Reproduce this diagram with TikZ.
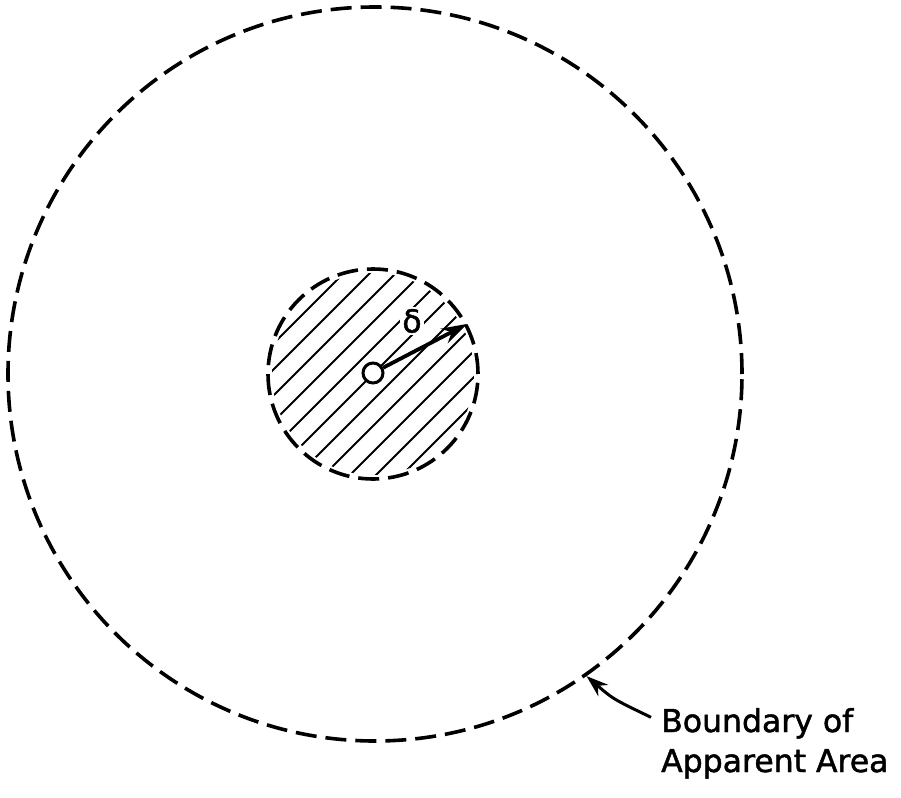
\documentclass[tikz,border=0pt]{standalone}
\usepackage{fontspec}
\setmainfont{DejaVu Sans}[FakeBold=1.5]
\usetikzlibrary{arrows.meta}

\begin{document}
\begin{tikzpicture}[x=1pt, y=-1pt, >={Stealth[length=26pt,width=16pt]},
  dashcirc/.style={circle, draw, dash pattern=on 21pt off 9pt, line width=3.6pt, inner sep=0pt},
  hatch/.style={line width=2pt},
  lab/.style={anchor=base west, inner sep=0pt, font=\fontsize{31.5}{40}\selectfont}]
  \useasboundingbox (0,0) rectangle (901,797);

  % Circles
  \node[dashcirc, minimum size=734pt] (outer) at (375,374) {};
  \node[dashcirc, minimum size=210pt] (core) at (373,374) {};

  % Hatching inside the core
  \begin{scope}
    \clip (373,374) circle (101pt);
    \foreach \k in {-5,...,5}
      \draw[hatch] ({373+\k*26-120},494) -- ({373+\k*26+120},254);
  \end{scope}

  % Centre point and radius
  \node[circle, draw, fill=white, line width=3pt, minimum size=20pt, inner sep=0pt] (pt) at (373,373) {};
  \node[fill=white, inner sep=2pt, font=\fontsize{31.5}{40}\selectfont] (delta) at (412,321) {δ};
  \draw[->, line width=3.8pt] (pt) -- (core.28);

  % Label
  \node[lab] (lab1) at (661,732) {Boundary of};
  \node[lab] (lab2) at (661,772) {Apparent Area};
  \draw[->, line width=3pt, >={Stealth[length=22pt,width=15pt]}] ([xshift=-10pt,yshift=6pt]lab1.west) .. controls (613,699) .. (outer.-55);
\end{tikzpicture}
\end{document}
